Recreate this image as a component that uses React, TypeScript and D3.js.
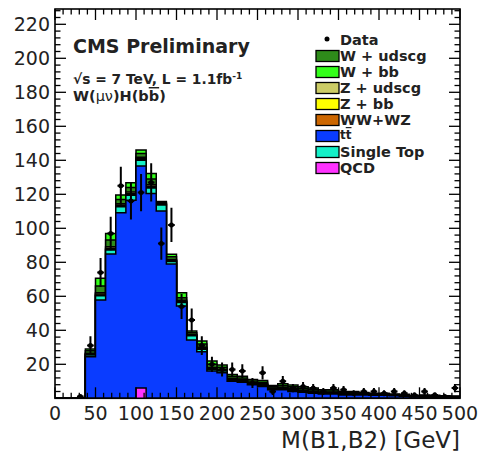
import React from 'react';
import * as d3 from 'd3';

// Bin lower edges (GeV), bin width 12.5
const binLow = [0, 12.5, 25, 37.5, 50, 62.5, 75, 87.5, 100, 112.5, 125, 137.5, 150, 162.5, 175, 187.5, 200, 212.5, 225, 237.5,
  250, 262.5, 275, 287.5, 300, 312.5, 325, 337.5, 350, 362.5, 375, 387.5, 400, 412.5, 425, 437.5, 450, 462.5, 475, 487.5];
const BIN_W = 12.5;

const qcd = [0, 0, 0, 0, 0, 0, 0, 0, 6, 0, 0, 0, 0, 0, 0, 0, 0, 0, 0, 0, 0, 0, 0, 0, 0, 0, 0, 0, 0, 0, 0, 0, 0, 0, 0, 0, 0, 0, 0, 0];
const ttbar = [0, 0, 0, 24.5, 57.8, 84.9, 109.2, 116.5, 130.6, 120.5, 110.2, 79, 54.3, 34.3, 27.4, 16, 15, 10, 9.5, 8,
  7, 5, 5, 4, 3.5, 3, 2.5, 2.5, 2, 2, 2, 1.8, 1.8, 1.5, 1.2, 0.7, 0.6, 0.5, 0.4, 0.3];
const singleTop = [0, 0, 0, 1, 2.5, 2.3, 3.5, 3, 3.5, 3.2, 3.5, 1.5, 2, 2.5, 1.5, 1, 1, 0.6, 0.5, 0.4,
  0.5, 0.3, 0.5, 0.5, 0.4, 0.4, 0.3, 0.3, 0.3, 0.3, 0.2, 0.2, 0.2, 0.1, 0.2, 0.1, 0.2, 0.2, 0.1, 0.1];
const wwwz = [0, 0, 0, 0.3, 0.5, 0.5, 0.5, 0.5, 0.5, 0.5, 0.3, 0.3, 0.4, 0.2, 0.3, 0.3, 0.3, 0.3, 0.3, 0.2,
  0.3, 0.2, 0.3, 0.3, 0.3, 0.2, 0.2, 0.2, 0.2, 0.2, 0.1, 0.1, 0.1, 0.1, 0.1, 0.1, 0.1, 0.1, 0.1, 0.1];
const zbb = [0, 0, 0, 0.2, 0.5, 0.6, 0.5, 0.5, 0.5, 0.6, 0.3, 0.3, 0.4, 0.2, 0.3, 0.3, 0.3, 0.3, 0.2, 0.2,
  0.2, 0.2, 0.2, 0.3, 0.2, 0.2, 0.2, 0.2, 0.1, 0.1, 0.1, 0.1, 0.1, 0.1, 0.1, 0.1, 0.1, 0.1, 0.1, 0.1];
const zudscg = [0, 0, 0, 0.5, 0.8, 0.8, 0.7, 0.8, 0.7, 0.8, 0.4, 0.5, 0.6, 0.4, 0.5, 0.5, 0.4, 0.6, 0.5, 0.5,
  0.5, 0.4, 0.5, 0.6, 0.5, 0.5, 0.4, 0.4, 0.3, 0.3, 0.2, 0.2, 0.2, 0.2, 0.2, 0.1, 0.2, 0.2, 0.2, 0.1];
const wudscg = [0, 0, 0, 1.5, 4, 4, 2.5, 2.7, 2.2, 3.4, 0.5, 1.6, 1.4, 1, 1.9, 2, 1.3, 1.1, 1, 0.9,
  1, 0.7, 1, 1.1, 1, 0.9, 0.7, 0.7, 0.6, 0.6, 0.4, 0.3, 0.3, 0.3, 0.3, 0.3, 0.4, 0.35, 0.3, 0.3];
const wbb = [0, 0, 0, 1, 4.5, 3.9, 2.7, 2.8, 2, 3.3, 0.5, 1.6, 3, 1, 1.8, 1.9, 1.3, 1.1, 1, 0.8,
  1, 0.7, 1, 1, 0.9, 0.8, 0.7, 0.7, 0.5, 0.5, 0.4, 0.3, 0.3, 0.3, 0.3, 0.3, 0.4, 0.35, 0.3, 0.3];
const dataCounts = [0, 0, 1, 31, 74, 97, 125, 116, 121, 127, 91, 102, 54, 46, 31, 20, 17, 17, 16, 9,
  15, 4, 10, 6, 7, 6, 4, 6, 5, 3, 4, 4, 3, 4, 3, 2, 4, 2, 1, 6];

const xTicks = [0, 50, 100, 150, 200, 250, 300, 350, 400, 450, 500];
const yTicks = [20, 40, 60, 80, 100, 120, 140, 160, 180, 200, 220];

// stacking order bottom-up
const stack = [
  { name: 'QCD', color: '#ff33ff', values: qcd },
  { name: 'tt', color: '#0a3cff', values: ttbar },
  { name: 'Single Top', color: '#14f0c8', values: singleTop },
  { name: 'WW+WZ', color: '#cc6600', values: wwwz },
  { name: 'Z + bb', color: '#ffff00', values: zbb },
  { name: 'Z + udscg', color: '#cccc66', values: zudscg },
  { name: 'W + udscg', color: '#2e8b1a', values: wudscg },
  { name: 'W + bb', color: '#33ff1a', values: wbb },
];

const legendItems = [
  { label: 'W + udscg', color: '#2e8b1a' },
  { label: 'W + bb', color: '#33ff1a' },
  { label: 'Z + udscg', color: '#cccc66' },
  { label: 'Z + bb', color: '#ffff00' },
  { label: 'WW+WZ', color: '#cc6600' },
  { label: 'tt', color: '#0a3cff', bar: true },
  { label: 'Single Top', color: '#14f0c8' },
  { label: 'QCD', color: '#ff33ff' },
];

const FONT = 'DejaVu Sans';

export default function App() {
  const W = 479, H = 453;
  const x = d3.scaleLinear().domain([0, 500]).range([55, 460]);
  const y = d3.scaleLinear().domain([0, 229]).range([398.3, 9]);

  // cumulative sums
  const cums: number[][] = [];
  let run = binLow.map(() => 0);
  stack.forEach((s) => {
    run = run.map((v, i) => v + s.values[i]);
    cums.push(run.slice());
  });

  const toPts = (vals: number[]) => [...binLow.map((b, i) => [b, vals[i]] as [number, number]), [500, vals[vals.length - 1]] as [number, number]];
  const area = d3.area<[number, number]>().x(d => x(d[0])).y0(y(0)).y1(d => y(d[1])).curve(d3.curveStepAfter);
  const line = d3.line<[number, number]>().x(d => x(d[0])).y(d => y(d[1])).curve(d3.curveStepAfter);

  const xMinor = d3.range(0, 501, 10);
  const yMinor = d3.range(0, 229, 4);
  const x0 = x(0), x1 = x(500), yb = y(0), yt = y(229);

  return (
    <svg width={W} height={H} style={{ position: 'absolute', left: 0, top: 0, background: '#fff' }} fontFamily={FONT}>
      <defs>
        <clipPath id="frame">
          <rect x={x0} y={yt} width={x1 - x0} height={yb - yt} />
        </clipPath>
      </defs>
      <g clipPath="url(#frame)">
        {stack.map((s, k) => k).reverse().map((k) => (
          <g key={k}>
            <path d={area(toPts(cums[k])) || ''} fill={stack[k].color} />
            <path d={line(toPts(cums[k])) || ''} fill="none" stroke="#000" strokeWidth={1.5} />
          </g>
        ))}
      </g>
      {/* ticks */}
      <g stroke="#000" strokeWidth={1.3}>
        {xMinor.map((v) => {
          const L = v % 50 === 0 ? 11 : 5.5;
          return (
            <g key={'xt' + v}>
              <line x1={x(v)} x2={x(v)} y1={yb} y2={yb - L} />
              <line x1={x(v)} x2={x(v)} y1={yt} y2={yt + L} />
            </g>
          );
        })}
        {yMinor.map((v) => {
          const L = v % 20 === 0 ? 11 : 5.5;
          return (
            <g key={'yt' + v}>
              <line x1={x0} x2={x0 + L} y1={y(v)} y2={y(v)} />
              <line x1={x1} x2={x1 - L} y1={y(v)} y2={y(v)} />
            </g>
          );
        })}
      </g>
      {/* data */}
      <g>
        {dataCounts.map((n, i) => {
          if (n <= 0) return null;
          const cx = binLow[i] + BIN_W / 2;
          const e = Math.sqrt(n);
          return (
            <g key={'d' + i} clipPath="url(#frame)">
              <line x1={x(cx)} x2={x(cx)} y1={y(n - e)} y2={y(n + e)} stroke="#000" strokeWidth={2} />
              <line x1={x(cx - BIN_W * 0.33)} x2={x(cx + BIN_W * 0.33)} y1={y(n)} y2={y(n)} stroke="#000" strokeWidth={2} />
              <circle cx={x(cx)} cy={y(n)} r={2.5} fill="#000" />
            </g>
          );
        })}
      </g>
      {/* frame */}
      <rect x={x0} y={yt} width={x1 - x0} height={yb - yt} fill="none" stroke="#000" strokeWidth={1.6} />
      {/* tick labels */}
      <g fontSize={19} fill="#222">
        {xTicks.map((v) => (
          <text key={'xl' + v} x={x(v)} y={420} textAnchor="middle">{v}</text>
        ))}
        {yTicks.map((v) => (
          <text key={'yl' + v} x={50} y={y(v)} dy="0.36em" textAnchor="end">{v}</text>
        ))}
      </g>
      <text x={460} y={448} fontSize={23} textAnchor="end" fill="#222">M(B1,B2) [GeV]</text>
      {/* titles */}
      <text x={73} y={53} fontSize={19} fontWeight="bold" fill="#222">CMS Preliminary</text>
      <text x={73} y={84} fontSize={13.8} fontWeight="bold" fill="#222">
        √s = 7 TeV, L = 1.1fb<tspan dy={-5} fontSize={9}>-1</tspan>
      </text>
      <text x={73} y={101} fontSize={14.5} fontWeight="bold" fill="#222">
        W(<tspan fontWeight="normal">μν</tspan>)H(b<tspan textDecoration="overline">b</tspan>)
      </text>
      {/* legend */}
      <g>
        <circle cx={327} cy={39} r={2.5} fill="#000" />
        <text x={340} y={44.5} fontSize={14.5} fontWeight="bold" fill="#222">Data</text>
        {legendItems.map((it, i) => {
          const cy = 56 + i * 16;
          return (
            <g key={it.label}>
              <rect x={316} y={cy - 5.5} width={23} height={11} fill={it.color} stroke="#000" strokeWidth={1.3} />
              {it.bar ? (
                <text x={340} y={cy + 3} fontSize={12} fontWeight="bold" fill="#222">
                  t<tspan textDecoration="overline">t</tspan>
                </text>
              ) : (
                <text x={340} y={cy + 5.2} fontSize={14.5} fontWeight="bold" fill="#222">{it.label}</text>
              )}
            </g>
          );
        })}
      </g>
    </svg>
  );
}
